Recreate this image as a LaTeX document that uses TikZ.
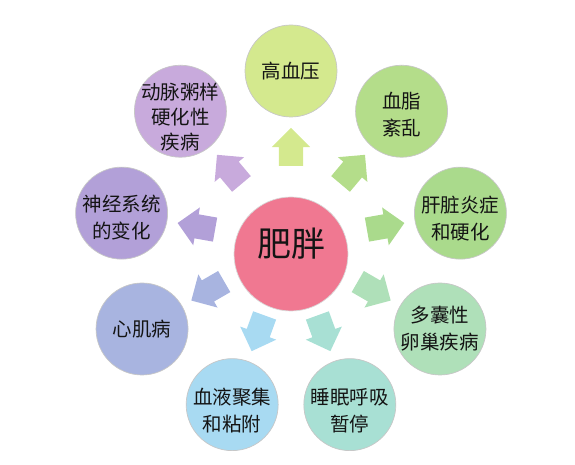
\documentclass[tikz,border=0pt]{standalone}
\usepackage{fontspec}
\setmainfont{Noto Sans CJK SC}
\usetikzlibrary{shapes.arrows,calc}
\definecolor{cCenter}{HTML}{F07891}
\definecolor{cA}{HTML}{D4E98E}
\definecolor{cB}{HTML}{B4DD8A}
\definecolor{cC}{HTML}{AADA8C}
\definecolor{cD}{HTML}{AFE0B9}
\definecolor{cE}{HTML}{A8E0D4}
\definecolor{cF}{HTML}{A8DAF2}
\definecolor{cG}{HTML}{A8B4E0}
\definecolor{cH}{HTML}{B2A0D8}
\definecolor{cI}{HTML}{C8AADC}
\begin{document}
\begin{tikzpicture}[x=1pt,y=1pt,
  bubble/.style={circle, minimum size=92pt, inner sep=0pt, draw=black!22, line width=0.7pt},
  lbl/.style={align=center, text=black!92, font=\fontsize{19.5}{27}\selectfont, inner sep=0pt},
  blockarrow/.style={single arrow, minimum height=38pt, minimum width=38pt,
    single arrow head extend=7pt, inner xsep=0pt, inner ysep=12pt, draw=none}]
\useasboundingbox (0,0) rectangle (575,465);
\coordinate (ring) at (291,222);
\node[circle, minimum size=114pt, inner sep=0pt, fill=cCenter, draw=black!15, line width=0.7pt] (obese) at (291,211) {};
\node[font=\fontsize{34}{40}\selectfont, text=black!92, inner sep=0pt] (obeselbl) at (291,221) {肥胖};
\foreach \ang/\col/\txt/\dy/\nm in {
   90/cA/{高血压}/0/1,
   50/cB/{血脂\\紊乱}/-3/2,
   10/cC/{肝脏炎症\\和硬化}/-5/3,
  -30/cD/{多囊性\\卵巢疾病}/0/4,
  -70/cE/{睡眠呼吸\\暂停}/-6/5,
 -110/cF/{血液聚集\\和粘附}/-6/6,
 -150/cG/{心肌病}/0/7,
  170/cH/{神经系统\\的变化}/-4/8,
  130/cI/{动脉粥样\\[-2pt]硬化性\\[-2pt]疾病}/-6/9} {
  \node[bubble, fill=\col] (c\nm) at ($(ring)+(\ang:172)$) {};
  \node[lbl] (t\nm) at ([yshift=\dy pt]c\nm.center) {\txt};
  \node[blockarrow, fill=\col, rotate=\ang] (a\nm) at ($(ring)+(\ang:90)$) {};
}
\end{tikzpicture}
\end{document}
